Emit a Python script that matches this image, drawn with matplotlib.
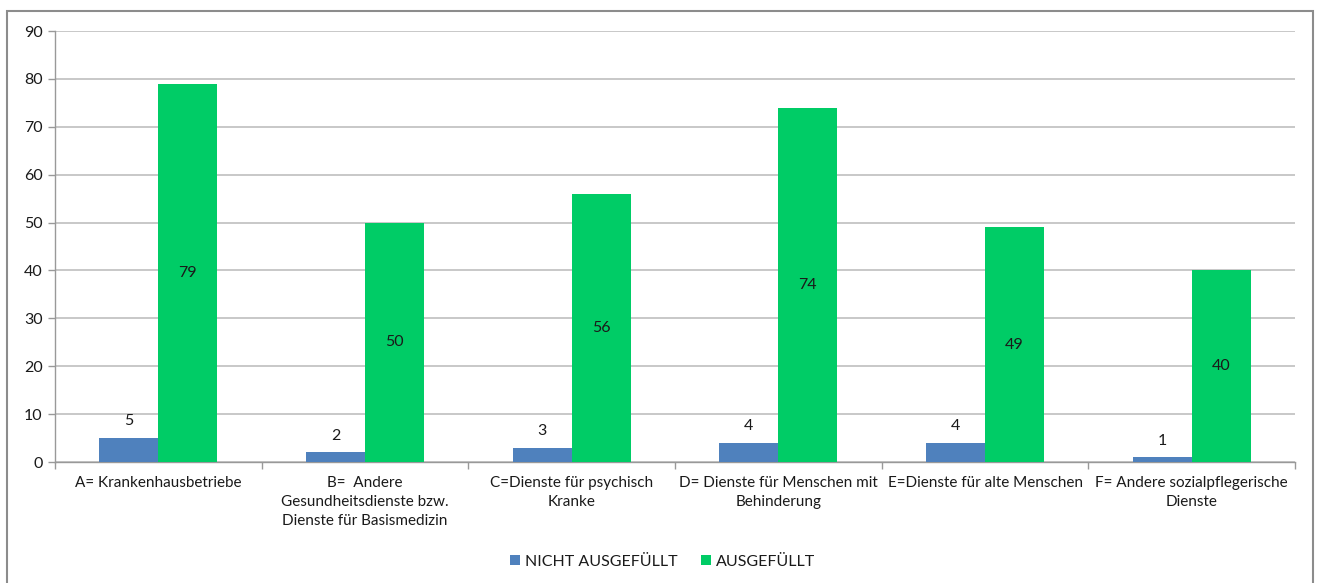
import numpy as np
import matplotlib
matplotlib.use("Agg")
import matplotlib.pyplot as plt
from matplotlib.patches import Rectangle

plt.rcParams['font.family'] = ['Lato', 'DejaVu Sans']

categories = [
    "A= Krankenhausbetriebe",
    "B=  Andere\nGesundheitsdienste bzw.\nDienste für Basismedizin",
    "C=Dienste für psychisch\nKranke",
    "D= Dienste für Menschen mit\nBehinderung",
    "E=Dienste für alte Menschen",
    "F= Andere sozialpflegerische\nDienste",
]
nicht_ausgefuellt = [5, 2, 3, 4, 4, 1]
ausgefuellt = [79, 50, 56, 74, 49, 40]

blue = "#4F81BD"
green = "#00CC66"
grid_col = "#BFBFBF"
text_col = "#1A1A1A"

fig = plt.figure(figsize=(13.17, 5.83), dpi=100)
ax = fig.add_axes([0.0418, 0.2075, 0.9415, 0.7393])

x = np.arange(len(categories))
w = 0.285
b1 = ax.bar(x - w / 2, nicht_ausgefuellt, w, color=blue, label="NICHT AUSGEFÜLLT", zorder=3)
b2 = ax.bar(x + w / 2, ausgefuellt, w, color=green, label="AUSGEFÜLLT", zorder=3)

# labels: blue above bar, green centered in bar
for xi, v in zip(x - w / 2, nicht_ausgefuellt):
    ax.annotate(str(v), (xi, v), xytext=(0, 7), textcoords="offset points",
                ha="center", va="bottom", fontsize=11.5, color=text_col)
for xi, v in zip(x + w / 2, ausgefuellt):
    ax.text(xi, v / 2, str(v), ha="center", va="center", fontsize=11.5, color=text_col)

ax.set_xlim(-0.5, len(categories) - 0.5)
ax.set_ylim(0, 90)
ax.set_yticks(range(0, 91, 10))
ax.yaxis.grid(True, color=grid_col, linewidth=1.2, zorder=0)
ax.set_axisbelow(True)

# category boundaries as x ticks, labels in between
ax.set_xticks(np.arange(-0.5, len(categories), 1.0))
ax.set_xticklabels([])
ax.set_xticks(x, minor=True)
ax.set_xticklabels(categories, minor=True, fontsize=11, color=text_col, linespacing=1.45)
ax.tick_params(axis="x", which="minor", length=0, pad=10)
ax.tick_params(axis="x", which="major", length=5, color="#999999", width=1)
ax.tick_params(axis="y", length=5, color="#999999", width=1, labelsize=11.5,
               labelcolor=text_col, pad=4)

for s in ["top", "right"]:
    ax.spines[s].set_visible(False)
ax.spines["left"].set_color("#999999")
ax.spines["bottom"].set_color("#999999")
ax.spines["left"].set_linewidth(1)
ax.spines["bottom"].set_linewidth(1)

leg = fig.legend(handles=[b1, b2], loc="center", bbox_to_anchor=(0.503, 0.036),
                 ncol=2, frameon=False, fontsize=11.5, handlelength=0.6,
                 handleheight=0.6, columnspacing=1.5, handletextpad=0.3)
for t in leg.get_texts():
    t.set_color(text_col)

# chart frame
fig.patches.append(Rectangle((7 / 1317, -0.05), 1306 / 1317, 1 - 11 / 583 + 0.05,
                             transform=fig.transFigure, fill=False,
                             edgecolor="#8C8C8C", linewidth=1.5))

fig.savefig("out.png", dpi=100)
